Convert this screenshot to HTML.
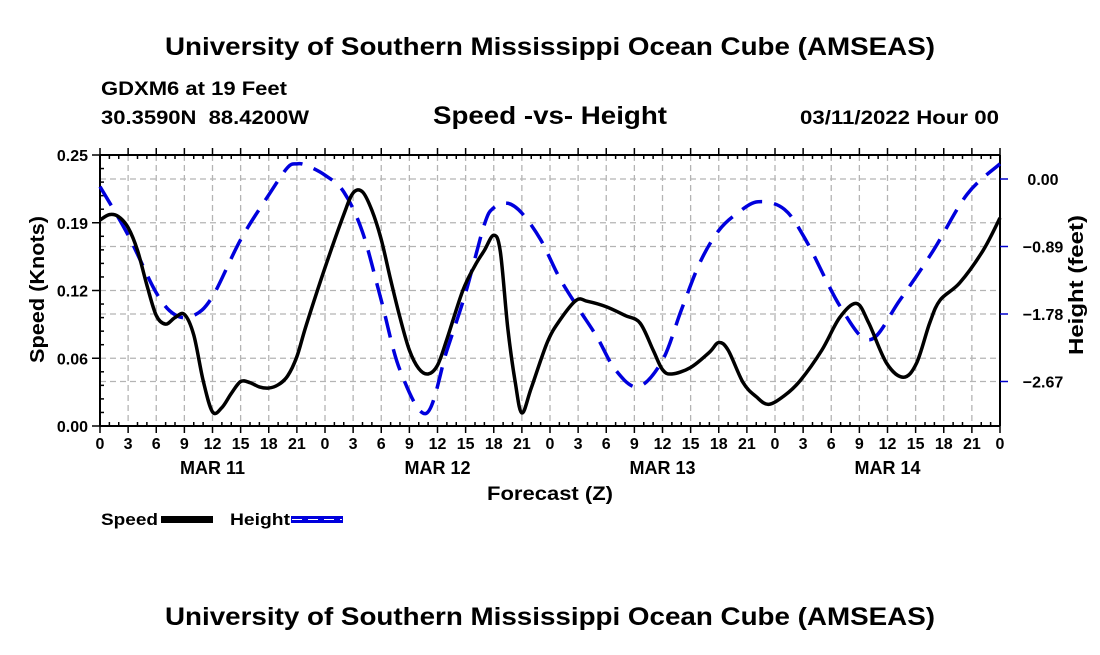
<!DOCTYPE html>
<html><head><meta charset="utf-8"><style>
body{margin:0;background:#fff;font-family:"Liberation Sans",sans-serif;}
svg text{font-family:"Liberation Sans",sans-serif;font-weight:bold;}
</style></head><body>
<svg id="c" width="1100" height="650" xmlns="http://www.w3.org/2000/svg">
<text x="165" y="55" font-size="25" textLength="770" lengthAdjust="spacingAndGlyphs">University of Southern Mississippi Ocean Cube (AMSEAS)</text>
<text x="101" y="95" font-size="19" textLength="186" lengthAdjust="spacingAndGlyphs">GDXM6 at 19 Feet</text>
<text x="101" y="124" font-size="19" textLength="208" lengthAdjust="spacingAndGlyphs" xml:space="preserve">30.3590N  88.4200W</text>
<text x="433" y="124" font-size="25" textLength="234" lengthAdjust="spacingAndGlyphs">Speed -vs- Height</text>
<text x="800" y="124" font-size="19" textLength="199" lengthAdjust="spacingAndGlyphs">03/11/2022 Hour 00</text>
<text x="165" y="625" font-size="25" textLength="770" lengthAdjust="spacingAndGlyphs">University of Southern Mississippi Ocean Cube (AMSEAS)</text>
<g id="grid"></g><g id="axes"></g><g id="series"></g>
<text x="487" y="500" font-size="19" textLength="126" lengthAdjust="spacingAndGlyphs">Forecast (Z)</text>
<text transform="translate(44,363) rotate(-90)" font-size="20" textLength="147" lengthAdjust="spacingAndGlyphs">Speed (Knots)</text>
<text transform="translate(1083,355) rotate(-90)" font-size="20" textLength="140" lengthAdjust="spacingAndGlyphs">Height (feet)</text>
<g>
<text x="101" y="525" font-size="17" textLength="57" lengthAdjust="spacingAndGlyphs">Speed</text>
<rect x="161" y="516" width="52" height="7" fill="#000"/>
<text x="230" y="525" font-size="17" textLength="60" lengthAdjust="spacingAndGlyphs">Height</text>
<rect x="291" y="516" width="52" height="7" fill="#0000dd"/>
<line x1="292" y1="519.5" x2="342" y2="519.5" stroke="#fff" stroke-width="1" stroke-dasharray="10 6"/>
</g>
</svg>
<script>
const speedHours=[0,1,2,3,4,5,6,7,8,9,10,11,12,13,14,15,16,17,18,19,20,21,22,24,26,27,28,29,30,31,32,33,34,35,36,37,38.7,40,41,42,42.7,43.5,44.3,45,46,47.7,49,50.8,52,54,56,57.6,59,60,61,63,65,66,67,68.6,70,71.3,73,74.7,77,78.9,80.7,82,83.9,85.7,87.1,88.5,89.6,91.7,94.2,96];
const speedValues=[0.19,0.195,0.193,0.183,0.162,0.13,0.102,0.094,0.1,0.103,0.084,0.042,0.013,0.017,0.03,0.041,0.04,0.036,0.035,0.038,0.046,0.064,0.093,0.146,0.195,0.215,0.216,0.199,0.172,0.135,0.1,0.07,0.053,0.048,0.056,0.08,0.125,0.148,0.162,0.176,0.161,0.09,0.04,0.012,0.035,0.077,0.097,0.116,0.115,0.11,0.102,0.095,0.07,0.052,0.048,0.054,0.068,0.077,0.07,0.04,0.027,0.02,0.028,0.042,0.07,0.1,0.113,0.095,0.058,0.045,0.058,0.095,0.116,0.132,0.162,0.192];
const heightHours=[0,3,6,8,10,12,15,18,20,21,22,24,26,28,30,32,34.8,37,39,41,42,43.5,45,47,49,51,53,55,57.4,60,62,64,66,68,70.2,73,75.4,79,82.1,85.3,88.9,92.5,96];
const heightValues=[-0.1,-0.74,-1.5,-1.79,-1.8,-1.55,-0.8,-0.21,0.15,0.2,0.18,0.05,-0.17,-0.7,-1.6,-2.52,-3.09,-2.26,-1.5,-0.6,-0.38,-0.32,-0.45,-0.8,-1.3,-1.7,-2.08,-2.52,-2.74,-2.39,-1.73,-1.1,-0.68,-0.45,-0.3,-0.4,-0.83,-1.69,-2.12,-1.6,-0.94,-0.2,0.2];
const xTickLabels=["0","3","6","9","12","15","18","21"];
const dayLabels=["MAR 11","MAR 12","MAR 13","MAR 14"];
const leftTicks=[0,0.0625,0.125,0.1875,0.25];
const leftTickLabels=["0.00","0.06","0.12","0.19","0.25"];
const rightTicks=[0,-0.89,-1.78,-2.67];
const rightTickLabels=["0.00","-0.89","-1.78","-2.67"];
const X0=100,X1=1000,Y0=426,Y1=155;
const x=h=>X0+h/96*(X1-X0);
const yL=v=>Y0-v/0.25*(Y0-Y1);
const yR=v=>179-v/0.89*67.5;
const NS="http://www.w3.org/2000/svg";
function mk(p,t,a){const e=document.createElementNS(NS,t);for(const k in a)e.setAttribute(k,a[k]);p.appendChild(e);return e;}
const grid=document.getElementById('grid'),axes=document.getElementById('axes'),ser=document.getElementById('series');
for(let h=3;h<96;h+=3){const l=mk(grid,'line',{x1:x(h),x2:x(h),y1:Y1,y2:Y0,stroke:'#b4b4b4','stroke-width':1.3,'stroke-dasharray':'6 4'});

}
leftTicks.slice(1,4).forEach(v=>{const l=mk(grid,'line',{x1:X0,x2:X1,y1:yL(v),y2:yL(v),stroke:'#b4b4b4','stroke-width':1.3,'stroke-dasharray':'6 4'});

});
rightTicks.forEach(v=>{const l=mk(grid,'line',{x1:X0,x2:X1,y1:yR(v),y2:yR(v),stroke:'#b4b4b4','stroke-width':1.3,'stroke-dasharray':'6 4'});

});
[[X0,Y0,X1,Y0],[X0,Y1,X1,Y1],[X0,Y1,X0,Y0],[X1,Y1,X1,Y0]].forEach(c=>{const l=mk(axes,'line',{x1:c[0],y1:c[1],x2:c[2],y2:c[3],stroke:'#000','stroke-width':2});

});
for(let h=0;h<=96;h++){const maj=h%3==0;
mk(axes,'line',{x1:x(h),x2:x(h),y1:maj?Y0+7:Y0,y2:Y0-(maj?0:4),stroke:'#000','stroke-width':1.5});
mk(axes,'line',{x1:x(h),x2:x(h),y1:maj?Y1-7:Y1,y2:Y1+(maj?0:4),stroke:'#000','stroke-width':1.5});
if(maj){const t=mk(axes,'text',{x:x(h),y:449,'font-size':16,'text-anchor':'middle'});t.textContent=h==96?"0":xTickLabels[(h%24)/3];

}}
dayLabels.forEach((d,i)=>{const t=mk(axes,'text',{x:x(12+24*i),y:474,'font-size':18,'text-anchor':'middle'});t.textContent=d;

});
for(let k=0;k<=20;k++){const v=k*0.0125;const maj=k%5==0;mk(axes,'line',{x1:maj?X0-8:X0,x2:X0+(maj?0:4),y1:yL(v),y2:yL(v),stroke:'#000','stroke-width':1.5});}
leftTicks.forEach((v,i)=>{const t=mk(axes,'text',{x:X0-12,y:yL(v)+6,'font-size':16,'text-anchor':'end'});t.textContent=leftTickLabels[i];

});
rightTicks.forEach((v,i)=>{mk(axes,'line',{x1:X1,x2:X1+8,y1:yR(v),y2:yR(v),stroke:'#0000cc','stroke-width':1.5});
const t=mk(axes,'text',{x:1043,y:yR(v)+6,'font-size':16,'text-anchor':'middle'});t.textContent=rightTickLabels[i].replace('-','\u2212');

});
function path(pts){let d=`M${pts[0][0]},${pts[0][1]}`;for(let i=0;i<pts.length-1;i++){const p0=pts[Math.max(0,i-1)],p1=pts[i],p2=pts[i+1],p3=pts[Math.min(pts.length-1,i+2)];
d+=` C${p1[0]+(p2[0]-p0[0])/6},${p1[1]+(p2[1]-p0[1])/6} ${p2[0]-(p3[0]-p1[0])/6},${p2[1]-(p3[1]-p1[1])/6} ${p2[0]},${p2[1]}`;}return d;}
const hp=mk(ser,'path',{d:path(heightHours.map((h,i)=>[x(h),yR(heightValues[i])])),fill:'none',stroke:'#0000dd','stroke-width':3.5,'stroke-dasharray':'22 12'});


const sp=mk(ser,'path',{d:path(speedHours.map((h,i)=>[x(h),yL(speedValues[i])])),fill:'none',stroke:'#000','stroke-width':3.5});


</script>
</body></html>
